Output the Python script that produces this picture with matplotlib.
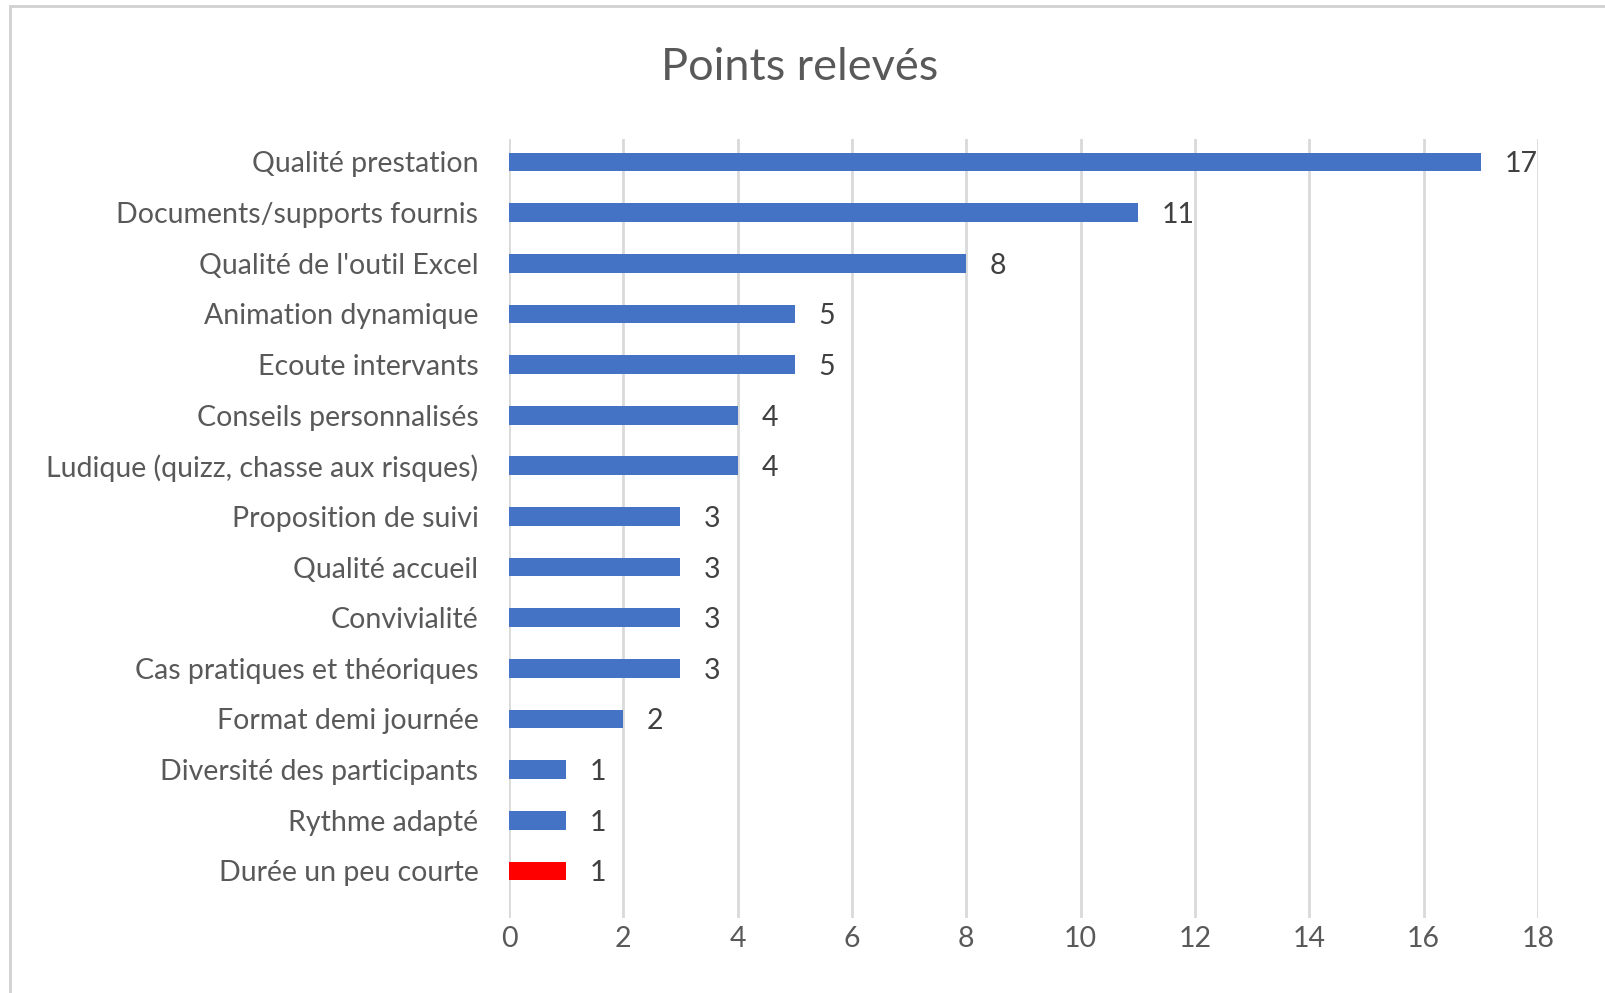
import matplotlib
matplotlib.use("Agg")
import matplotlib.pyplot as plt
from matplotlib.patches import Rectangle

plt.rcParams["font.family"] = ["Lato", "DejaVu Sans"]

categories = [
    "Qualité prestation",
    "Documents/supports fournis",
    "Qualité de l'outil Excel",
    "Animation dynamique",
    "Ecoute intervants",
    "Conseils personnalisés",
    "Ludique (quizz, chasse aux risques)",
    "Proposition de suivi",
    "Qualité accueil",
    "Convivialité",
    "Cas pratiques et théoriques",
    "Format demi journée",
    "Diversité des participants",
    "Rythme adapté",
    "Durée un peu courte",
]
values = [17, 11, 8, 5, 5, 4, 4, 3, 3, 3, 3, 2, 1, 1, 1]
bar_colors = ["#4472C4"] * 14 + ["#FF0000"]
x_ticks = [0, 2, 4, 6, 8, 10, 12, 14, 16, 18]

fig = plt.figure(figsize=(16.06, 9.93), dpi=100)
fig.patch.set_facecolor("white")

# light frame of the chart area
fig.add_artist(Rectangle((10 / 1606, -0.01), 1.02, 1 - 6 / 993 + 0.01,
                         transform=fig.transFigure, fill=False,
                         edgecolor="#D0D0D0", linewidth=2))

ax = fig.add_axes([509 / 1606, 1 - 918 / 993, (1538 - 509) / 1606, (918 - 139) / 993])

pos = list(range(len(categories)))
ax.barh(pos, values, height=0.37, color=bar_colors, zorder=3)

for p, v in zip(pos, values):
    ax.annotate(str(v), xy=(v, p), xytext=(17, 0), textcoords="offset points",
                ha="left", va="center_baseline", fontsize=20.5, color="#404040")

ax.set_xlim(0, 18)
ax.set_ylim(14.93, -0.454)
ax.set_xticks(x_ticks)
ax.set_yticks(pos)
ax.set_yticklabels(categories, va="center_baseline")
ax.tick_params(axis="y", length=0, pad=22, labelsize=20.5, labelcolor="#595959")
ax.tick_params(axis="x", length=0, pad=6, labelsize=20.5, labelcolor="#595959")
ax.grid(axis="x", color="#D9D9D9", linewidth=2, zorder=0)
for s in ax.spines.values():
    s.set_visible(False)

fig.text(800 / 1606, 1 - 68 / 993, "Points relevés", ha="center", va="center",
         fontsize=32.5, color="#595959")

fig.savefig("out.png", dpi=100)
